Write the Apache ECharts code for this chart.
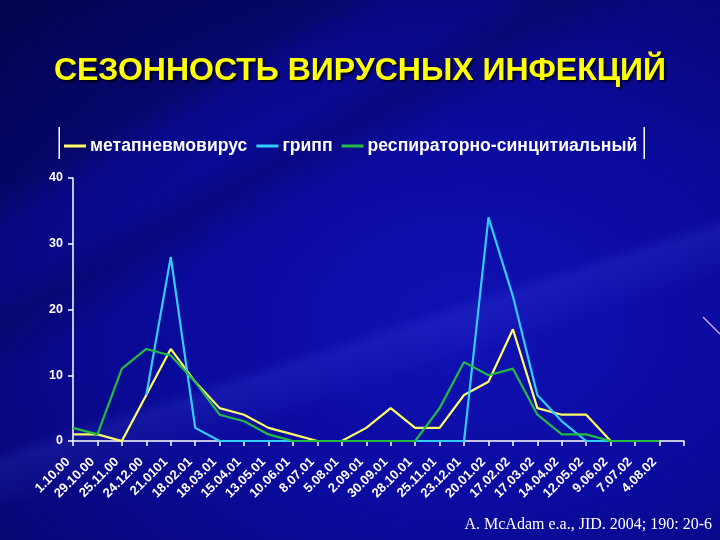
<!DOCTYPE html>
<html><head><meta charset="utf-8">
<script src="https://cdn.jsdelivr.net/npm/echarts@6/dist/echarts.min.js"></script>
<style>
html,body{margin:0;padding:0;width:720px;height:540px;overflow:hidden;}
body{
  background:
    linear-gradient(162deg, rgba(0,0,0,0) 58%, rgba(90,110,255,0.13) 60%, rgba(90,110,255,0.05) 64%, rgba(0,0,0,0) 66%),
    linear-gradient(150deg, rgba(0,0,30,0.25) 20%, rgba(0,0,0,0) 24%, rgba(0,0,0,0) 30%, rgba(0,0,30,0.2) 34%, rgba(0,0,0,0) 40%),
    radial-gradient(ellipse at 65% 60%, #1111b4 0%, #0b0ba0 40%, #07077a 80%, #05055e 100%);
}
#chart{width:720px;height:540px;}
</style></head><body><div id="chart"></div>
<script>
const dates = ['1.10.00','29.10.00','25.11.00','24.12.00','21.0101','18.02.01','18.03.01','15.04.01','13.05.01','10.06.01','8.07.01','5.08.01','2.09.01','30.09.01','28.10.01','25.11.01','23.12.01','20.01.02','17.02.02','17.03.02','14.04.02','12.05.02','9.06.02','7.07.02','4.08.02'];
const seriesNames = ['метапневмовирус','грипп','респираторно-синцитиальный'];
const hmpv = [1,1,0,7,14,9,5,4,2,1,0,0,2,5,2,2,7,9,17,5,4,4,0,0,0];
const flu  = [null,null,null,7,28,2,0,0,0,0,0,0,0,0,0,0,0,34,22,7,3,0,0,0,0];
const rsv  = [2,1,11,14,13,9,4,3,1,0,0,0,0,0,0,5,12,10,11,4,1,1,0,0,0];
const yTicks = [0,10,20,30,40];
const titleText = 'СЕЗОННОСТЬ ВИРУСНЫХ ИНФЕКЦИЙ';
const sourceText = 'A. McAdam e.a., JID. 2004; 190: 20-6';

const colors = ['#ffff66','#33ccff','#22bb44'];
const chart = echarts.init(document.getElementById('chart'), null, {renderer:'canvas'});
const lab = {color:'#ffffff', fontWeight:'bold', fontFamily:'Liberation Sans, Arial, sans-serif'};
chart.setOption({
  backgroundColor:'transparent',
  animation:false,
  color: colors,
  title:{
    text:titleText, left:'center', top:50,
    textStyle:{color:'#ffff00', fontSize:32, fontWeight:'bold', fontFamily:'Liberation Sans, Arial, sans-serif',
      textShadowColor:'rgba(0,0,0,0.8)', textShadowOffsetX:2, textShadowOffsetY:2, textShadowBlur:2}
  },
  legend:{
    left:64, top:137, padding:0, itemWidth:22, itemHeight:3, itemGap:9, icon:'rect',
    data: seriesNames,
    textStyle:Object.assign({fontSize:17.6, padding:[0,0,0,-1]}, lab)
  },
  grid:{left:73, right:36, top:178, bottom:99, containLabel:false},
  xAxis:{
    type:'category', boundaryGap:false, data:[...dates,''],
    axisLine:{lineStyle:{color:'#ffffff', width:1.5}},
    axisTick:{show:true, length:5, lineStyle:{color:'#ffffff', width:1.5}, interval:0},
    axisLabel:Object.assign({rotate:45, interval:0, fontSize:13, margin:14, padding:[0,7,0,0]}, lab),
    splitLine:{show:false}
  },
  yAxis:{
    type:'value', min:yTicks[0], max:yTicks[yTicks.length-1], interval:10,
    axisLine:{show:true, lineStyle:{color:'#ffffff', width:1.5}},
    axisTick:{show:true, length:5, lineStyle:{color:'#ffffff', width:1.5}},
    axisLabel:Object.assign({fontSize:12.5, margin:10}, lab),
    splitLine:{show:false}
  },
  series:[
    {name:seriesNames[0], type:'line', data:hmpv, symbol:'none', lineStyle:{width:2.2, color:colors[0]}},
    {name:seriesNames[1], type:'line', data:flu, symbol:'none', lineStyle:{width:2.2, color:colors[1]}},
    {name:seriesNames[2], type:'line', data:rsv, symbol:'none', lineStyle:{width:2.2, color:colors[2]}}
  ],
  graphic:[
    {type:'rect', silent:true, shape:{x:58.5, y:127, width:1.5, height:32}, style:{fill:'#ffffff'}},
    {type:'rect', silent:true, shape:{x:643.5, y:127, width:1.5, height:32}, style:{fill:'#ffffff'}},
    {type:'line', silent:true, shape:{x1:703, y1:317, x2:720, y2:334}, style:{stroke:'#c8a8ff', lineWidth:1.5}},
    {type:'text', silent:true, right:8, top:517, style:{text:sourceText, fill:'#ffffff', font:'16px "Liberation Serif", "Times New Roman", serif'}}
  ]
});
</script>
</body></html>
